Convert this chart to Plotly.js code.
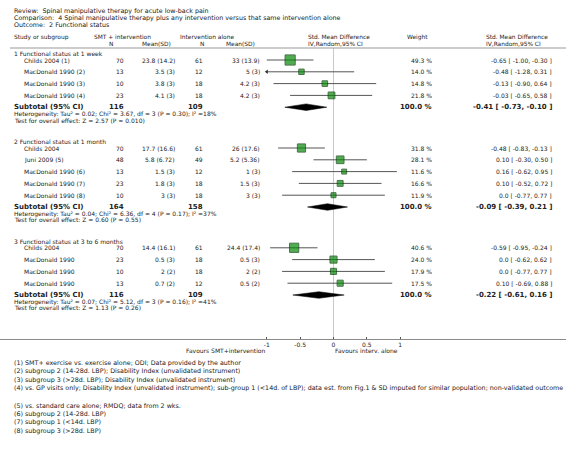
<!DOCTYPE html>
<html><head><meta charset="utf-8">
<script src="https://cdn.plot.ly/plotly-3.0.1.min.js"></script>
<style>html,body{margin:0;padding:0;background:#fff}</style>
</head><body><div id="chart" style="width:566px;height:450px"></div>
<script>
// ---------------- DATA ----------------
const reviewTitle = "Review:  Spinal manipulative therapy for acute low-back pain";
const comparisonTitle = "Comparison:  4 Spinal manipulative therapy plus any intervention versus that same intervention alone";
const outcomeTitle = "Outcome:  2 Functional status";

const groupNames = ["1 Functional status at 1 week", "2 Functional status at 1 month", "3 Functional status at 3 to 6 months"];

const studies1 = ["Childs 2004 (1)", "MacDonald 1990 (2)", "MacDonald 1990 (3)", "MacDonald 1990 (4)"];
const smtN1 = [70, 13, 10, 23];
const smtMean1 = ["23.8 (14.2)", "3.5 (3)", "3.8 (3)", "4.1 (3)"];
const intN1 = [61, 12, 18, 18];
const intMean1 = ["33 (13.9)", "5 (3)", "4.2 (3)", "4.2 (3)"];
const weight1 = [49.3, 14.0, 14.8, 21.8];
const smd1 = [-0.65, -0.48, -0.13, -0.03];
const lo1 = [-1.00, -1.28, -0.90, -0.65];
const hi1 = [-0.30, 0.31, 0.64, 0.58];

const studies2 = ["Childs 2004", "Juni 2009 (5)", "MacDonald 1990 (6)", "MacDonald 1990 (7)", "MacDonald 1990 (8)"];
const smtN2 = [70, 48, 13, 23, 10];
const smtMean2 = ["17.7 (16.6)", "5.8 (6.72)", "1.5 (3)", "1.8 (3)", "3 (3)"];
const intN2 = [61, 49, 12, 18, 18];
const intMean2 = ["26 (17.6)", "5.2 (5.36)", "1 (3)", "1.5 (3)", "3 (3)"];
const weight2 = [31.8, 28.1, 11.6, 16.6, 11.9];
const smd2 = [-0.48, 0.10, 0.16, 0.10, 0.0];
const lo2 = [-0.83, -0.30, -0.62, -0.52, -0.77];
const hi2 = [-0.13, 0.50, 0.95, 0.72, 0.77];

const studies3 = ["Childs 2004", "MacDonald 1990", "MacDonald 1990", "MacDonald 1990"];
const smtN3 = [70, 23, 10, 13];
const smtMean3 = ["14.4 (16.1)", "0.5 (3)", "2 (2)", "0.7 (2)"];
const intN3 = [61, 18, 18, 12];
const intMean3 = ["24.4 (17.4)", "0.5 (3)", "2 (2)", "0.5 (2)"];
const weight3 = [40.6, 24.0, 17.9, 17.5];
const smd3 = [-0.59, 0.0, 0.0, 0.10];
const lo3 = [-0.95, -0.62, -0.77, -0.69];
const hi3 = [-0.24, 0.62, 0.77, 0.88];

const subSmtN = [116, 164, 116];
const subIntN = [109, 158, 109];
const subWeight = [100.0, 100.0, 100.0];
const subSmd = [-0.41, -0.09, -0.22];
const subLo = [-0.73, -0.39, -0.61];
const subHi = [-0.10, 0.21, 0.16];
const hetTexts = [
  "Heterogeneity: Tau² = 0.02; Chi² = 3.67, df = 3 (P = 0.30); I² =18%",
  "Heterogeneity: Tau² = 0.04; Chi² = 6.36, df = 4 (P = 0.17); I² =37%",
  "Heterogeneity: Tau² = 0.07; Chi² = 5.12, df = 3 (P = 0.16); I² =41%"
];
const testTexts = [
  "Test for overall effect: Z = 2.57 (P = 0.010)",
  "Test for overall effect: Z = 0.60 (P = 0.55)",
  "Test for overall effect: Z = 1.13 (P = 0.26)"
];

const tickVals = [-1, -0.5, 0, 0.5, 1];
const tickLabels = ["-1", "-0.5", "0", "0.5", "1"];
const favoursLeft = "Favours SMT+intervention";
const favoursRight = "Favours interv. alone";

const footnotes = [
  "(1) SMT+ exercise vs. exercise alone; ODI; Data provided by the author",
  "(2) subgroup 2 (14-28d. LBP); Disability Index (unvalidated instrument)",
  "(3) subgroup 3 (>28d. LBP); Disability Index (unvalidated instrument)",
  "(4) vs. GP visits only; Disability Index (unvalidated instrument); sub-group 1 (<14d. of LBP); data est. from Fig.1 & SD imputed for similar population; non-validated outcome",
  "",
  "(5) vs. standard care alone; RMDQ; data from 2 wks.",
  "(6) subgroup 2 (14-28d. LBP)",
  "(7) subgroup 1 (<14d. LBP)",
  "(8) subgroup 3 (>28d. LBP)"
];

// ---------------- LAYOUT CONSTANTS ----------------
const W = 566, H = 450;
const zeroPx = 333.5, unitPx = 66.7;   // forest scale
const axisY = 339;
const clipMin = -1, clipMax = 1.6;
const FONT = "DejaVu Sans, Verdana, sans-serif";
const FS = 6.0, FSB = 7.0, FSN = 6.35, FSH = 5.9;
const TXT = "#222";

const groups = [
  {studies: studies1, smtN: smtN1, smtMean: smtMean1, intN: intN1, intMean: intMean1, w: weight1, smd: smd1, lo: lo1, hi: hi1},
  {studies: studies2, smtN: smtN2, smtMean: smtMean2, intN: intN2, intMean: intMean2, w: weight2, smd: smd2, lo: lo2, hi: hi2},
  {studies: studies3, smtN: smtN3, smtMean: smtMean3, intN: intN3, intMean: intMean3, w: weight3, smd: smd3, lo: lo3, hi: hi3}
];

const col = {name: 13, study: 23, smtN: 125, smtMean: 176, intN: 204, intMean: 261, weight: 433, ci: 553};
const step = 11.8;

function fmt(v) { return v === 0 ? "0.0" : v.toFixed(2); }
function ciText(e, l, h) { return fmt(e) + " [ " + fmt(l) + ", " + fmt(h) + " ]"; }

const annotations = [];
function ann(px, py, text, xanchor, opts) {
  opts = opts || {};
  annotations.push({
    xref: "paper", yref: "y", x: px / W, y: py, text: text, showarrow: false,
    xanchor: xanchor, yanchor: "middle", borderpad: 0,
    font: {family: FONT, size: opts.size || FS, color: opts.color || TXT, weight: opts.bold ? "bold" : "normal"}
  });
}

// Titles and header
ann(col.name, 11, reviewTitle, "left", {size: FSN});
ann(col.name, 17.6, comparisonTitle, "left", {size: FSN});
ann(col.name, 24.2, outcomeTitle, "left", {size: FSN});
const h1 = 37.4, h2 = 43.6, hs = {size: FSH};
ann(col.name, h1, "Study or subgroup", "left", hs);
ann(93, h1, "SMT + intervention", "left", hs);
ann(111, h2, "N", "center", hs);
ann(157, h2, "Mean(SD)", "center", hs);
ann(179, h1, "Intervention alone", "left", hs);
ann(202, h2, "N", "center", hs);
ann(240, h2, "Mean(SD)", "center", hs);
ann(307, h1, "Std. Mean Difference", "left", hs);
ann(307, h2, "IV,Random,95% CI", "left", hs);
ann(417, h1, "Weight", "center", hs);
ann(485, h1, "Std. Mean Difference", "left", hs);
ann(485, h2, "IV,Random,95% CI", "left", hs);

// traces
const ciX = [], ciY = [], sqX = [], sqY = [], sqS = [], arX = [], arY = [];
const traces = [];
let y = 53.5;
groups.forEach((g, gi) => {
  ann(col.name, y, groupNames[gi], "left");
  let ry = y + 6.5;
  g.studies.forEach((s, i) => {
    ann(col.study, ry, s, "left");
    ann(col.smtN, ry, String(g.smtN[i]), "right");
    ann(col.smtMean, ry, g.smtMean[i], "right");
    ann(col.intN, ry, String(g.intN[i]), "right");
    ann(col.intMean, ry, g.intMean[i], "right");
    ann(col.weight, ry, g.w[i].toFixed(1) + " %", "right");
    ann(col.ci, ry, ciText(g.smd[i], g.lo[i], g.hi[i]), "right");
    ciX.push(Math.max(g.lo[i], clipMin), Math.min(g.hi[i], clipMax), null);
    ciY.push(ry, ry, null);
    if (g.lo[i] < clipMin) { arX.push(clipMin); arY.push(ry); }
    sqX.push(g.smd[i]); sqY.push(ry); sqS.push(Math.max(3, 1.45 * Math.sqrt(g.w[i])));
    ry += step;
  });
  // subtotal
  ann(col.name, ry, "Subtotal (95% CI)", "left", {bold: true, size: FSB});
  ann(col.smtN, ry, String(subSmtN[gi]), "right", {bold: true, size: FSB});
  ann(col.intN, ry, String(subIntN[gi]), "right", {bold: true, size: FSB});
  ann(col.weight, ry, subWeight[gi].toFixed(1) + " %", "right", {bold: true, size: FSB});
  ann(col.ci, ry, ciText(subSmd[gi], subLo[gi], subHi[gi]), "right", {bold: true, size: FSB});
  traces.push({
    type: "scatter", mode: "lines", fill: "toself", fillcolor: "#000",
    x: [subLo[gi], subSmd[gi], subHi[gi], subSmd[gi], subLo[gi]],
    y: [ry, ry - 3.3, ry, ry + 3.3, ry],
    line: {color: "#000", width: 0.5}, hoverinfo: "skip", showlegend: false
  });
  ann(col.name, ry + 6.7, hetTexts[gi], "left");
  ann(col.name, ry + 12.8, testTexts[gi], "left");
  y = ry + 12.8 + 21.5;
});

traces.unshift({type: "scatter", mode: "lines", x: ciX, y: ciY, line: {color: "#555", width: 1}, hoverinfo: "skip", showlegend: false});
traces.push({type: "scatter", mode: "markers", x: arX, y: arY, marker: {symbol: "triangle-left", size: 4, color: "#333"}, hoverinfo: "skip", showlegend: false});
traces.push({type: "scatter", mode: "markers", x: sqX, y: sqY,
  marker: {symbol: "square", size: sqS, color: "#078a07", line: {color: "#003a00", width: 1}}, hoverinfo: "skip", showlegend: false});

// favours labels & footnotes
ann(zeroPx - unitPx - 1, 350, favoursLeft, "right");
ann(zeroPx, 350, favoursRight, "left");
footnotes.forEach((f, i) => { if (f) ann(col.name, 363 + i * 8.45, f, "left", {size: FSN}); });

const layout = {
  width: W, height: H,
  margin: {l: 0, r: 0, t: 0, b: 0, pad: 0},
  paper_bgcolor: "#fff", plot_bgcolor: "rgba(0,0,0,0)",
  showlegend: false,
  xaxis: {
    range: [-zeroPx / unitPx, (W - zeroPx) / unitPx],
    anchor: "free", position: 1 - axisY / H,
    showline: true, linecolor: "#8a8a8a", linewidth: 1,
    tickvals: tickVals, ticktext: tickLabels, ticks: "inside", ticklen: 2, tickcolor: "#555",
    tickfont: {family: FONT, size: FS, color: TXT},
    showgrid: false, zeroline: false, fixedrange: true
  },
  yaxis: {range: [H, 0], visible: false, showgrid: false, zeroline: false, fixedrange: true},
  shapes: [
    {type: "line", xref: "paper", yref: "y", x0: 10 / W, x1: 1, y0: 48, y1: 48, line: {color: "#999", width: 1}},
    {type: "line", xref: "x", yref: "y", x0: 0, x1: 0, y0: 48, y1: axisY, line: {color: "#c8c8c8", width: 1}, layer: "below"}
  ],
  annotations: annotations
};

Plotly.newPlot("chart", traces, layout, {staticPlot: true, displayModeBar: false});
</script></body></html>
